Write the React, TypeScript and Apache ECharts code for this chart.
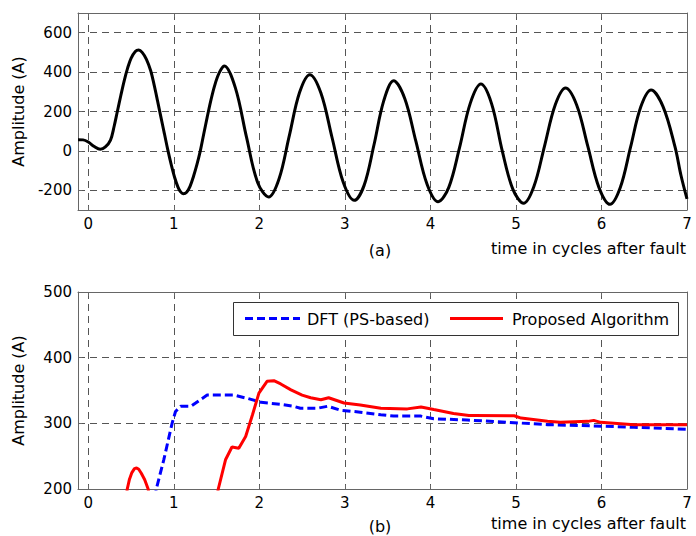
import React, { useEffect, useRef } from "react";
import * as echarts from "echarts";

// ---- data ----
const xTicks = [0, 1, 2, 3, 4, 5, 6, 7];
const topYTicks = [-200, 0, 200, 400, 600];
const bottomYTicks = [200, 300, 400, 500];

// (a) fault current waveform
const waveT = [
  -0.12, -0.06, 0.0, 0.07, 0.14, 0.2, 0.26, 0.3, 0.34, 0.38, 0.42, 0.46, 0.5, 0.55, 0.59, 0.63, 0.68, 0.73,
  0.77, 0.81, 0.85, 0.89, 0.93, 0.97, 1.01, 1.05, 1.08, 1.11, 1.15, 1.19, 1.23, 1.27, 1.31, 1.35, 1.39, 1.43,
  1.47, 1.51, 1.55, 1.59, 1.72, 1.85, 1.98, 2.11, 2.23, 2.35, 2.47, 2.59, 2.72, 2.85, 2.98,
  3.11, 3.225, 3.34, 3.455, 3.57, 3.7, 3.83, 3.96, 4.09, 4.215, 4.34, 4.465, 4.59, 4.715, 4.84, 4.965,
  5.09, 5.21, 5.335, 5.46, 5.58, 5.71, 5.84, 5.97, 6.1, 6.22, 6.34, 6.46, 6.58, 6.72, 6.86, 6.93, 7.0,
];
const waveA = [
  57, 56, 45, 22, 8, 20, 55, 120, 200, 280, 356, 420, 470, 505, 512, 500, 465, 407,
  335, 254, 170, 88, 5, -70, -135, -185, -208, -217, -210, -180, -130, -70, 0, 86, 170, 250,
  320, 375, 412, 431, 320, 70, -160, -234, -143, 76, 296, 387, 294, 68, -158,
  -251, -175, 30, 255, 356, 266, 49, -168, -258, -185, 15, 240, 339, 240, 0, -195,
  -266, -181, 26, 234, 319, 233, 24, -185, -271, -186, 19, 224, 309, 225, 20, -125, -244,
];

// (b) DFT (PS-based) amplitude estimate
const dftT = [
  0.74, 0.795, 0.884, 0.98, 1.02, 1.08, 1.2, 1.31, 1.39, 1.55, 1.7, 1.86, 2.02, 2.25, 2.4, 2.48, 2.68, 2.8,
  2.95, 3.18, 3.42, 3.57, 3.89, 4.04, 4.43, 4.98, 5.37, 5.91, 6.38, 7.0,
];
const dftA = [
  150, 200, 245, 300, 318, 326, 326, 336, 343, 343, 343, 338, 332, 329, 326, 323, 323, 326,
  320, 317, 313, 311, 311, 307, 305, 301, 298, 296, 294, 291,
];

// (b) Proposed Algorithm amplitude estimate
const propT = [
  0.4, 0.456, 0.48, 0.51, 0.54, 0.565, 0.59, 0.62, 0.66, 0.7, 0.76, 1.45, 1.52, 1.606, 1.68, 1.76, 1.84, 1.92,
  1.995, 2.09, 2.17, 2.25, 2.37, 2.5, 2.6, 2.72, 2.81, 2.99, 3.18, 3.42, 3.73, 3.89, 4.04, 4.27, 4.45, 4.51,
  4.98, 5.06, 5.37, 5.52, 5.84, 5.91, 5.99, 6.38, 7.0,
];
const propA = [
  150, 200, 214, 225, 231, 232, 230, 224, 214, 200, 150, 150, 200, 245, 264, 262, 280, 313,
  346, 364, 365, 360, 351, 343, 339, 336, 339, 331, 328, 323, 322, 325, 321, 315, 312, 312,
  311.5, 308, 303, 301.5, 303, 304.5, 301.5, 298, 298,
];

const X_MIN = -0.12;
const X_MAX = 7;
const FONT = "DejaVu Sans";

const zip = (t: number[], v: number[]) => t.map((x, i) => [x, v[i]]);

const axisColor = "#666";
const gridLine = { show: true, lineStyle: { color: "#555", type: [7, 5] as any, width: 1 } };

function xAxisCfg(gridIndex: number, position: string, main: boolean) {
  return {
    type: "value",
    gridIndex,
    position,
    min: X_MIN,
    max: X_MAX,
    axisLine: { show: true, onZero: false, lineStyle: { color: axisColor, width: 1 } },
    axisTick: { show: true, inside: true, length: 4, customValues: xTicks, lineStyle: { color: axisColor } },
    axisLabel: main
      ? { show: true, customValues: xTicks, margin: 6, color: "#000", fontFamily: FONT, fontSize: 15 }
      : { show: false },
    splitLine: main ? gridLine : { show: false },
  };
}

function yAxisCfg(
  gridIndex: number,
  position: string,
  main: boolean,
  min: number,
  max: number,
  ticks: number[]
) {
  return {
    type: "value",
    gridIndex,
    position,
    min,
    max,
    name: main ? "Amplitude (A)" : "",
    nameLocation: "middle",
    nameGap: 52,
    nameTextStyle: { color: "#000", fontFamily: FONT, fontSize: 16 },
    axisLine: { show: true, onZero: false, lineStyle: { color: axisColor, width: 1 } },
    axisTick: { show: true, inside: true, length: 4, customValues: ticks, lineStyle: { color: axisColor } },
    axisLabel: main
      ? { show: true, customValues: ticks, margin: 6, color: "#000", fontFamily: FONT, fontSize: 15 }
      : { show: false },
    splitLine: main ? gridLine : { show: false },
  };
}

export default function App() {
  const ref = useRef<HTMLDivElement>(null);

  useEffect(() => {
    if (!ref.current) return;
    const chart = echarts.init(ref.current, null, { renderer: "svg" });
    const textStyle = { fontFamily: FONT, fontSize: 16, fill: "#000" };
    chart.setOption({
      animation: false,
      backgroundColor: "#fff",
      grid: [
        { left: 78, right: 9, top: 13, height: 197 },
        { left: 78, right: 9, top: 292, height: 197 },
      ],
      xAxis: [
        xAxisCfg(0, "bottom", true),
        xAxisCfg(0, "top", false),
        xAxisCfg(1, "bottom", true),
        xAxisCfg(1, "top", false),
      ],
      yAxis: [
        yAxisCfg(0, "left", true, -300, 700, topYTicks),
        yAxisCfg(0, "right", false, -300, 700, topYTicks),
        yAxisCfg(1, "left", true, 200, 500, bottomYTicks),
        yAxisCfg(1, "right", false, 200, 500, bottomYTicks),
      ],
      series: [
        {
          name: "Current",
          type: "line",
          xAxisIndex: 0,
          yAxisIndex: 0,
          data: zip(waveT, waveA),
          showSymbol: false,
          symbol: "none",
          smooth: 0.35,
          clip: true,
          lineStyle: { color: "#000", width: 3 },
        },
        {
          name: "DFT (PS-based)",
          type: "line",
          xAxisIndex: 2,
          yAxisIndex: 2,
          data: zip(dftT, dftA),
          symbol: "none",
          clip: true,
          lineStyle: { color: "#0000ff", width: 3, type: [8, 4] },
        },
        {
          name: "Proposed Algorithm",
          type: "line",
          xAxisIndex: 2,
          yAxisIndex: 2,
          data: zip(propT, propA),
          symbol: "none",
          clip: true,
          lineStyle: { color: "#ff0000", width: 3 },
        },
      ],
      graphic: [
        { type: "text", x: 686, y: 248, z: 10, style: { ...textStyle, text: "time in cycles after fault", align: "right", verticalAlign: "middle" } },
        { type: "text", x: 380, y: 250, z: 10, style: { ...textStyle, text: "(a)", align: "center", verticalAlign: "middle" } },
        { type: "text", x: 686, y: 523, z: 10, style: { ...textStyle, text: "time in cycles after fault", align: "right", verticalAlign: "middle" } },
        { type: "text", x: 380, y: 526, z: 10, style: { ...textStyle, text: "(b)", align: "center", verticalAlign: "middle" } },
        {
          type: "rect",
          z: 10,
          shape: { x: 233.5, y: 302.5, width: 445, height: 33 },
          style: { fill: "#fff", stroke: "#333", lineWidth: 1 },
        },
        {
          type: "line",
          z: 11,
          shape: { x1: 245, y1: 318.5, x2: 300, y2: 318.5 },
          style: { stroke: "#0000ff", lineWidth: 3, lineDash: [8, 4] },
        },
        { type: "text", x: 307, y: 319, z: 11, style: { ...textStyle, text: "DFT (PS-based)", align: "left", verticalAlign: "middle" } },
        {
          type: "line",
          z: 11,
          shape: { x1: 450, y1: 318.5, x2: 503, y2: 318.5 },
          style: { stroke: "#ff0000", lineWidth: 3 },
        },
        { type: "text", x: 512, y: 319, z: 11, style: { ...textStyle, text: "Proposed Algorithm", align: "left", verticalAlign: "middle" } },
      ],
    });
    return () => chart.dispose();
  }, []);

  return (
    <div
      ref={ref}
      style={{ position: "absolute", left: 0, top: 0, width: 696, height: 536, background: "#fff" }}
    />
  );
}
